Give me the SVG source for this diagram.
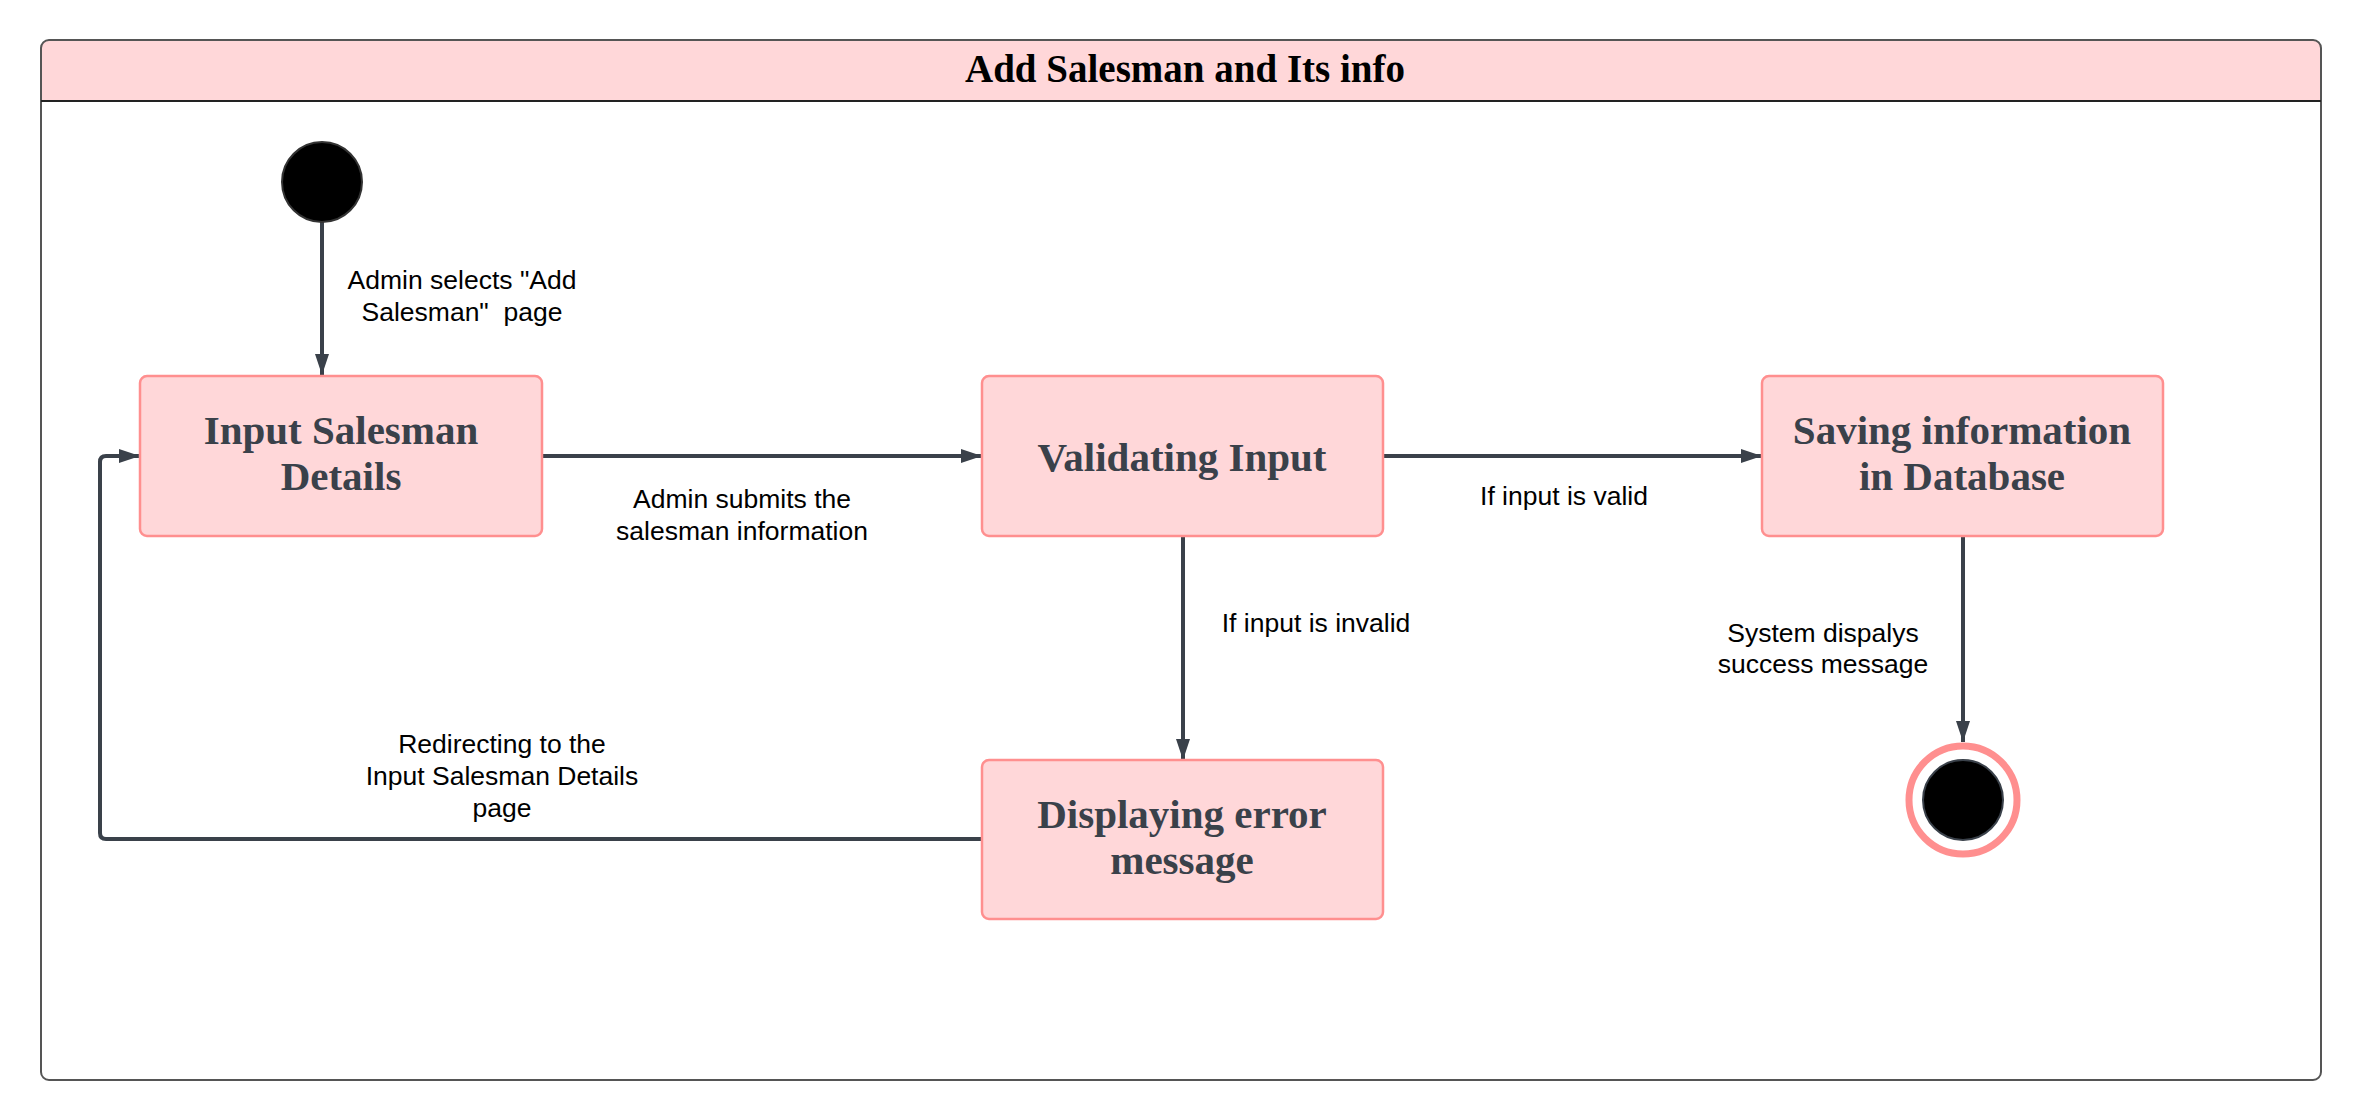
<svg xmlns="http://www.w3.org/2000/svg" width="2362" height="1120" viewBox="0 0 2362 1120">
<style>
.node rect{fill:#FFD7D9;stroke:#FF8F8F;stroke-width:2.5}
.ntext{font-family:"Liberation Serif",serif;font-weight:bold;font-size:41px;fill:#3A414A;text-anchor:middle}
.lbl{font-family:"Liberation Sans",Arial,sans-serif;font-size:26.5px;fill:#000;text-anchor:middle}
.conn{fill:none;stroke:#3A414A;stroke-width:4}
</style>
<defs>
<marker id="arr" markerUnits="userSpaceOnUse" markerWidth="21" markerHeight="14" refX="21" refY="7" orient="auto">
<path d="M0,0 L21,7 L0,14 z" fill="#3A414A"/>
</marker>
</defs>
<rect width="2362" height="1120" fill="#fff"/>
<g id="frame">
<path d="M41 101 L41 48 Q41 40 49 40 L2313 40 Q2321 40 2321 48 L2321 101 Z" fill="#FFD7D9"/>
<rect x="41" y="40" width="2280" height="1040" rx="8" fill="none" stroke="#555" stroke-width="2"/>
<line x1="41" y1="101" x2="2321" y2="101" stroke="#222" stroke-width="2"/>
<text x="1185" y="82" font-family="Liberation Serif,serif" font-weight="bold" font-size="39" text-anchor="middle" fill="#000">Add Salesman and Its info</text>
</g>
<g id="connectors">
<path class="conn" d="M322 222 L322 375" marker-end="url(#arr)"/>
<path class="conn" d="M542 456 L982 456" marker-end="url(#arr)"/>
<path class="conn" d="M1383 456 L1762 456" marker-end="url(#arr)"/>
<path class="conn" d="M1183 536 L1183 760" marker-end="url(#arr)"/>
<path class="conn" d="M1963 536 L1963 742" marker-end="url(#arr)"/>
<path class="conn" d="M982 839 L106 839 Q100 839 100 833 L100 462 Q100 456 106 456 L140 456" marker-end="url(#arr)"/>
<text class="lbl" x="462" y="289">Admin selects "Add</text>
<text class="lbl" x="462" y="321" xml:space="preserve">Salesman"  page</text>
<text class="lbl" x="742" y="508">Admin submits the</text>
<text class="lbl" x="742" y="540">salesman information</text>
<text class="lbl" x="1564" y="505">If input is valid</text>
<text class="lbl" x="1316" y="632">If input is invalid</text>
<text class="lbl" x="1823" y="642">System dispalys</text>
<text class="lbl" x="1823" y="673">success message</text>
<text class="lbl" x="502" y="753">Redirecting to the</text>
<text class="lbl" x="502" y="785">Input Salesman Details</text>
<text class="lbl" x="502" y="817">page</text>
</g>
<g id="start">
<circle cx="322" cy="182" r="40" fill="#000" stroke="#333" stroke-width="2"/>
</g>
<g id="input-details" class="node">
<rect x="140" y="376" width="402" height="160" rx="7"/>
<text class="ntext" x="341" y="444">Input Salesman</text>
<text class="ntext" x="341" y="490">Details</text>
</g>
<g id="validating" class="node">
<rect x="982" y="376" width="401" height="160" rx="7"/>
<text class="ntext" x="1182" y="471">Validating Input</text>
</g>
<g id="saving" class="node">
<rect x="1762" y="376" width="401" height="160" rx="7"/>
<text class="ntext" x="1962" y="444">Saving information</text>
<text class="ntext" x="1962" y="490">in Database</text>
</g>
<g id="error" class="node">
<rect x="982" y="760" width="401" height="159" rx="7"/>
<text class="ntext" x="1182" y="828">Displaying error</text>
<text class="ntext" x="1182" y="874">message</text>
</g>
<g id="end">
<circle cx="1963" cy="800" r="54" fill="#fff" stroke="#FF8F8F" stroke-width="7"/>
<circle cx="1963" cy="800" r="40" fill="#000" stroke="#3A414A" stroke-width="2"/>
</g>
</svg>
